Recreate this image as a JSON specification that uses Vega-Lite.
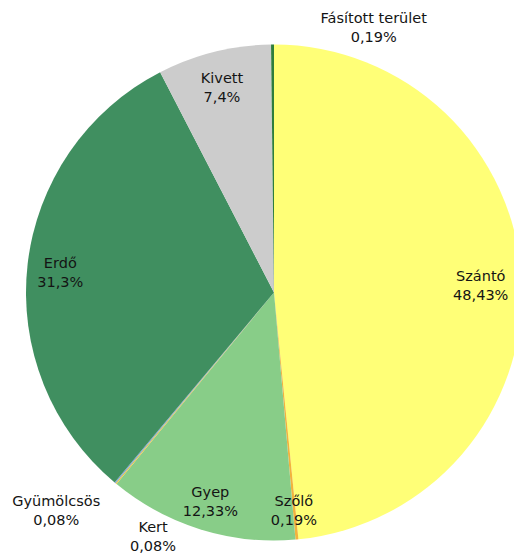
{
  "$schema": "https://vega.github.io/schema/vega-lite/v6.json",
  "autosize": {"type": "none"},
  "width": 480,
  "height": 525,
  "padding": {"left": 34, "top": 30, "right": 0, "bottom": 0},
  "background": "white",
  "view": {"stroke": null},
  "config": {"text": {"font": "DejaVu Sans", "fontSize": 14.5, "color": "#141414", "lineBreak": "\n", "lineHeight": 19, "baseline": "middle", "align": "center"}},
  "data": {
    "values": [
      {"n": 1, "name": "Szántó", "value": 48.43, "label": "Szántó\n48,43%"},
      {"n": 2, "name": "Szőlő", "value": 0.19, "label": "Szőlő\n0,19%"},
      {"n": 3, "name": "Gyep", "value": 12.33, "label": "Gyep\n12,33%"},
      {"n": 4, "name": "Kert", "value": 0.08, "label": "Kert\n0,08%"},
      {"n": 5, "name": "Gyümölcsös", "value": 0.08, "label": "Gyümölcsös\n0,08%"},
      {"n": 6, "name": "Erdő", "value": 31.3, "label": "Erdő\n31,3%"},
      {"n": 7, "name": "Kivett", "value": 7.4, "label": "Kivett\n7,4%"},
      {"n": 8, "name": "Fásított terület", "value": 0.19, "label": "Fásított terület\n0,19%"}
    ]
  },
  "encoding": {
    "theta": {"field": "value", "type": "quantitative", "stack": true},
    "order": {"field": "n", "type": "quantitative"}
  },
  "layer": [
    {
      "mark": {"type": "arc", "radius": 248},
      "encoding": {
        "color": {
          "field": "name",
          "type": "nominal",
          "legend": null,
          "scale": {
            "domain": ["Szántó", "Szőlő", "Gyep", "Kert", "Gyümölcsös", "Erdő", "Kivett", "Fásított terület"],
            "range": ["#FFFF77", "#F2B33D", "#88CD88", "#E8C547", "#7FA6D8", "#408F60", "#CCCCCC", "#2E7D3C"]
          }
        }
      }
    },
    {
      "mark": {"type": "text", "radius": 215, "dy": -5},
      "encoding": {"text": {"condition": {"test": "(datum.n >= 2 && datum.n <= 3) || (datum.n >= 6 && datum.n <= 7)", "field": "label", "type": "nominal"}, "value": ""}}
    },
    {
      "mark": {"type": "text", "radius": 215, "dx": -8, "dy": -5},
      "encoding": {"text": {"condition": {"test": "datum.n == 1", "field": "label", "type": "nominal"}, "value": ""}}
    },
    {
      "mark": {"type": "text", "radius": 215, "dx": 101, "dy": -59},
      "encoding": {"text": {"condition": {"test": "datum.n == 8", "field": "label", "type": "nominal"}, "value": ""}}
    },
    {
      "mark": {"type": "text", "radius": 215, "dx": 16, "dy": 70},
      "encoding": {"text": {"condition": {"test": "datum.n == 4", "field": "label", "type": "nominal"}, "value": ""}}
    },
    {
      "mark": {"type": "text", "radius": 215, "dx": -80, "dy": 44},
      "encoding": {"text": {"condition": {"test": "datum.n == 5", "field": "label", "type": "nominal"}, "value": ""}}
    }
  ]
}
